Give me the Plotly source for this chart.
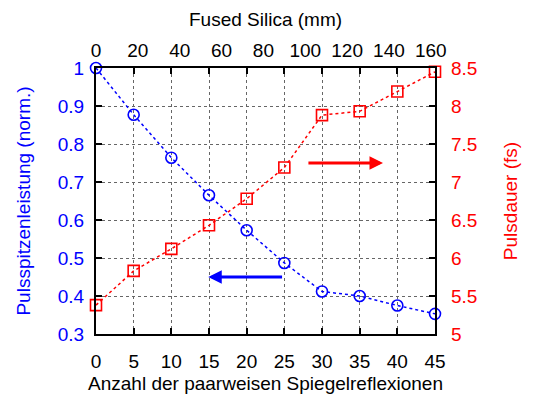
import plotly.graph_objects as go

reflections = [0, 5, 10, 15, 20, 25, 30, 35, 40, 45]
peak_power = [1.0, 0.877, 0.764, 0.665, 0.573, 0.487, 0.412, 0.400, 0.375, 0.353]
pulse_duration = [5.38, 5.83, 6.12, 6.43, 6.78, 7.19, 7.88, 7.93, 8.19, 8.45]

x_title = "Anzahl der paarweisen Spiegelreflexionen"
x2_title = "Fused Silica (mm)"
y_title = "Pulsspitzenleistung (norm.)"
y2_title = "Pulsdauer (fs)"

BLUE = "#0000ff"
RED = "#ff0000"
FONT = "Liberation Sans, Arial, sans-serif"
FS = 19

fig = go.Figure()
fig.add_trace(go.Scatter(
    x=reflections, y=peak_power, mode="lines+markers",
    line=dict(color=BLUE, width=1.5, dash="dot"),
    marker=dict(symbol="circle-open", size=11, color=BLUE, line=dict(width=1.6)),
    yaxis="y", xaxis="x", showlegend=False, cliponaxis=False,
))
fig.add_trace(go.Scatter(
    x=reflections, y=pulse_duration, mode="lines+markers",
    line=dict(color=RED, width=1.5, dash="dot"),
    marker=dict(symbol="square-open", size=11, color=RED, line=dict(width=1.6)),
    yaxis="y2", xaxis="x", showlegend=False, cliponaxis=False,
))

# arrows indicating which axis each curve belongs to
fig.add_annotation(x=38.1, y=7.25, ax=28, ay=7.25, xref="x", yref="y2",
                   axref="x", ayref="y2", showarrow=True, arrowhead=2,
                   arrowsize=0.9, arrowwidth=3, arrowcolor=RED, text="")
fig.add_annotation(x=14.9, y=0.45, ax=24.9, ay=0.45, xref="x", yref="y",
                   axref="x", ayref="y", showarrow=True, arrowhead=2,
                   arrowsize=0.9, arrowwidth=3, arrowcolor=BLUE, text="")

fig.update_layout(
    width=538, height=403,
    margin=dict(l=96, r=103, t=68, b=60),
    paper_bgcolor="white", plot_bgcolor="white",
    font=dict(family=FONT, size=FS, color="black"),
    xaxis=dict(
        range=[0, 45], dtick=5, tick0=0, ticks="inside", ticklen=6,
        tickcolor="black", tickwidth=1.5, showline=True, linecolor="black",
        linewidth=2, mirror="ticks", showgrid=True, gridcolor="#666",
        griddash="dot", gridwidth=1, zeroline=False,
        title=dict(text=x_title, standoff=6, font=dict(size=FS)),
        ticklabelstandoff=9,
    ),
    xaxis2=dict(
        range=[0, 162], dtick=20, tick0=0, overlaying="x", side="top",
        ticks="", showgrid=False, zeroline=False, showline=False,
        title=dict(text=x2_title, standoff=8, font=dict(size=FS)),
        ticklabelstandoff=6,
    ),
    yaxis=dict(
        range=[0.3, 1.0], dtick=0.1, tick0=0.3, ticks="inside", ticklen=6,
        tickcolor="black", tickwidth=1.5, showline=True, linecolor="black",
        linewidth=2, mirror="ticks", showgrid=True, gridcolor="#666",
        griddash="dot", gridwidth=1, zeroline=False,
        tickfont=dict(color=BLUE), tickformat="~g",
        title=dict(text=y_title, standoff=22, font=dict(color=BLUE, size=FS)),
        ticklabelstandoff=6,
    ),
    yaxis2=dict(
        range=[5, 8.5], dtick=0.5, tick0=5, overlaying="y", side="right",
        ticks="", showgrid=False, zeroline=False, showline=False,
        tickfont=dict(color=RED),
        title=dict(text=y2_title, standoff=27, font=dict(color=RED, size=FS)),
        ticklabelstandoff=15,
    ),
)
# dummy trace to activate xaxis2
fig.add_trace(go.Scatter(x=[0, 162], y=[None, None], xaxis="x2", yaxis="y",
                         showlegend=False, hoverinfo="skip", mode="lines"))

fig.write_html("out.html")
